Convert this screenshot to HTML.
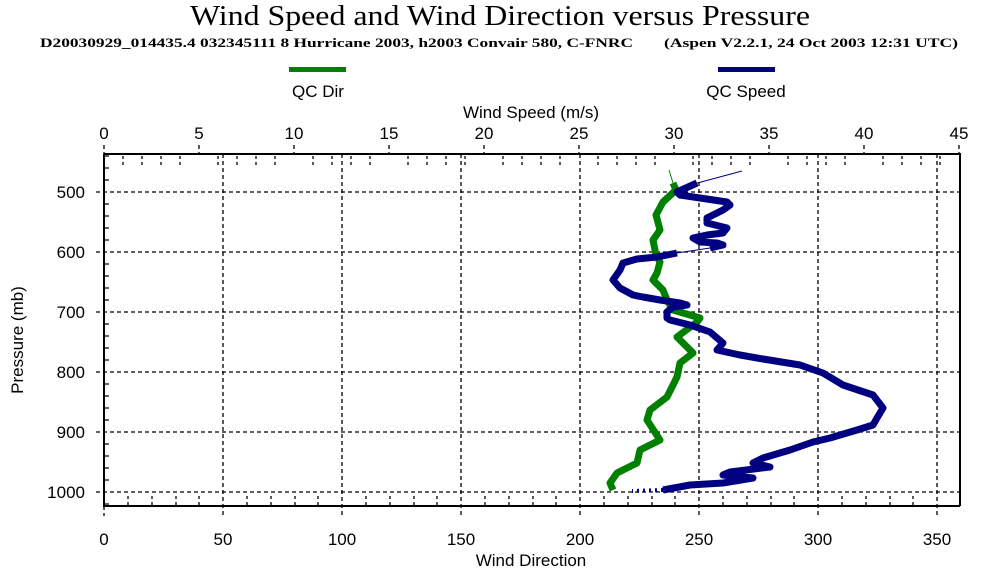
<!DOCTYPE html>
<html><head><style>body{margin:0;background:#fff}svg{display:block}</style></head><body>
<svg width="1000" height="572" xmlns="http://www.w3.org/2000/svg" font-family="Liberation Sans, sans-serif">
<text x="190" y="25" textLength="620" lengthAdjust="spacingAndGlyphs" font-family="Liberation Serif, serif" font-size="28">Wind Speed and Wind Direction versus Pressure</text>
<text x="40" y="47" textLength="593" lengthAdjust="spacingAndGlyphs" font-family="Liberation Serif, serif" font-size="13" font-weight="bold">D20030929_014435.4 032345111 8 Hurricane 2003, h2003 Convair 580, C-FNRC</text>
<text x="664" y="47" textLength="294" lengthAdjust="spacingAndGlyphs" font-family="Liberation Serif, serif" font-size="13" font-weight="bold">(Aspen V2.2.1, 24 Oct 2003  12:31 UTC)</text>
<rect x="289" y="67" width="57" height="5" fill="#008000"/>
<rect x="718" y="67" width="57" height="5" fill="#000080"/>
<text x="318" y="97" text-anchor="middle" font-size="17">QC Dir</text>
<text x="746" y="97" text-anchor="middle" font-size="17">QC Speed</text>
<text x="531" y="118" text-anchor="middle" font-size="17">Wind Speed (m/s)</text>
<text x="531" y="566" text-anchor="middle" font-size="17">Wind Direction</text>
<text transform="translate(23,340) rotate(-90)" text-anchor="middle" font-size="17">Pressure (mb)</text>
<g font-size="17" text-anchor="middle">
<text x="104" y="139">0</text><text x="199" y="139">5</text><text x="294" y="139">10</text><text x="389" y="139">15</text><text x="484" y="139">20</text><text x="579" y="139">25</text><text x="674" y="139">30</text><text x="769" y="139">35</text><text x="864" y="139">40</text><text x="959" y="139">45</text>
<text x="104" y="545">0</text><text x="223" y="545">50</text><text x="342" y="545">100</text><text x="461" y="545">150</text><text x="580" y="545">200</text><text x="699" y="545">250</text><text x="818" y="545">300</text><text x="937" y="545">350</text>
</g>
<g font-size="17" text-anchor="end">
<text x="85" y="198">500</text><text x="85" y="258">600</text><text x="85" y="318">700</text><text x="85" y="378">800</text><text x="85" y="438">900</text><text x="85" y="498">1000</text>
</g>
<g stroke="#000" stroke-width="1.3" stroke-dasharray="4,3" fill="none">
<path d="M96 192H960M96 252H960M96 312H960M96 372H960M96 432H960M96 492H960"/>
<path d="M223 154V516M342 154V516M461 154V516M580 154V516M699 154V516M818 154V516M937 154V516"/>
<path d="M104 145V154M199 145V154M294 145V154M389 145V154M484 145V154M579 145V154M674 145V154M769 145V154M864 145V154M959 145V154"/>
<path d="M104 506V516"/>
</g>
<g stroke="#000" stroke-width="1.3" stroke-dasharray="3,3" fill="none">
<path d="M123 156V166M142 156V166M161 156V166M180 156V166M218 156V166M237 156V166M256 156V166M275 156V166M313 156V166M332 156V166M351 156V166M370 156V166M408 156V166M427 156V166M446 156V166M465 156V166M503 156V166M522 156V166M541 156V166M560 156V166M598 156V166M617 156V166M636 156V166M655 156V166M693 156V166M712 156V166M731 156V166M750 156V166M788 156V166M807 156V166M826 156V166M845 156V166M883 156V166M902 156V166M921 156V166M940 156V166"/>
<path d="M128 496V506M152 496V506M176 496V506M199 496V506M247 496V506M271 496V506M295 496V506M318 496V506M366 496V506M390 496V506M414 496V506M437 496V506M485 496V506M509 496V506M533 496V506M556 496V506M604 496V506M628 496V506M652 496V506M675 496V506M723 496V506M747 496V506M771 496V506M794 496V506M842 496V506M866 496V506M890 496V506M913 496V506"/>
</g>
<g stroke="#000" stroke-width="1.3" fill="none">
<path d="M104 156h5M104 168h5M104 180h5M104 204h5M104 216h5M104 228h5M104 240h5M104 264h5M104 276h5M104 288h5M104 300h5M104 324h5M104 336h5M104 348h5M104 360h5M104 384h5M104 396h5M104 408h5M104 420h5M104 444h5M104 456h5M104 468h5M104 480h5M104 504h5"/>
<path d="M104 154H960V506M104 154V506H960" stroke-width="2"/>
</g>
<polyline fill="none" stroke="#008000" stroke-width="1" points="669,170 673,183"/>
<polyline fill="none" stroke="#008000" stroke-width="7" stroke-linejoin="round" points="673,183 676,190 663,202 656,215 660,230 653,240 656,255 660,262 657,273 653,280 663,290 667,300 673,310 690,315 700,318 697,322 677,337 693,353 680,363 677,377 667,397 650,410 647,420 660,440 640,450 637,463 617,473 610,483 613,490"/>
<polyline fill="none" stroke="#000080" stroke-width="1" points="742,171 690,185"/>
<polyline fill="none" stroke="#000080" stroke-width="7" stroke-linejoin="round" points="697,183 677,192 680,195 700,198 727,202 730,205 723,210 707,218 707,223 727,228 723,233 707,235 693,238 700,242 717,243 723,245 710,248"/>
<polyline fill="none" stroke="#000080" stroke-width="1" points="710,248 677,253"/>
<polyline fill="none" stroke="#000080" stroke-width="7" stroke-linejoin="round" points="677,253 657,257 637,259 623,263 620,270 613,280 620,288 633,295 643,297 660,300 680,303 687,305 673,307 667,312 667,318 670,320 690,325 710,332 723,343 717,350 740,355 763,359 800,365 823,373 843,385 873,395 883,408 877,418 873,425 857,430 830,438 813,442 790,450 763,458 753,463 770,467 730,472 723,475 753,478 723,483 690,485 663,490"/>
<polyline fill="none" stroke="#000080" stroke-width="4" stroke-dasharray="2,4" points="663,490 632,491"/>
</svg>
</body></html>
